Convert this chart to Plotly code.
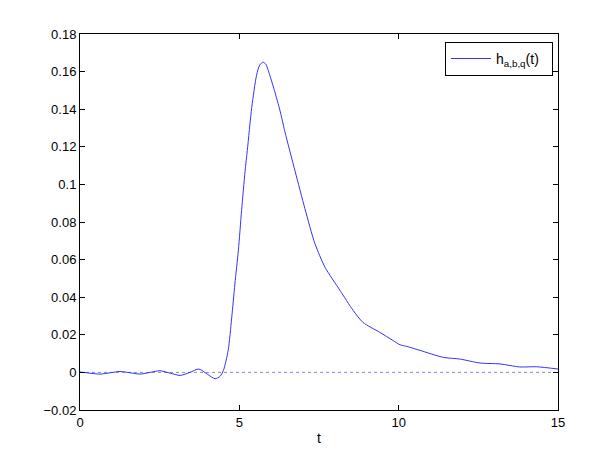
import plotly.graph_objects as go

# values
t = [0, 0.3, 0.63, 0.95, 1.26, 1.57, 1.88, 2.2, 2.51, 2.83, 3.14, 3.45, 3.73, 4.0,
     4.24, 4.4, 4.5, 4.65, 4.76, 4.86, 4.97, 5.07, 5.18, 5.25, 5.39, 5.54, 5.64, 5.74,
     5.83, 5.91, 6.1, 6.28, 6.43, 6.75, 7.06, 7.37, 7.69, 8.16, 8.57, 8.88, 9.41, 9.82,
     10.04, 10.26, 10.67, 11.4, 11.92, 12.55, 13.18, 13.8, 14.33, 15.0]
h = [0.0002, -0.0004, -0.0009, -0.0002, 0.0005, -0.0002, -0.0009, 0.0, 0.0009, -0.0004,
     -0.0016, 0.0, 0.0018, -0.001, -0.0034, -0.002, 0.001, 0.0117, 0.029, 0.047,
     0.065, 0.086, 0.107, 0.118, 0.141, 0.158, 0.1635, 0.165, 0.164, 0.1605, 0.150, 0.139, 0.128,
     0.107, 0.087, 0.0686, 0.0559, 0.0436, 0.033, 0.0266, 0.0213, 0.017, 0.0147,
     0.0138, 0.0117, 0.008, 0.0071, 0.005, 0.0045, 0.0029, 0.003, 0.0018]
zero_t = [0, 15]
zero_h = [0, 0]
ytickvals = [-0.02, 0, 0.02, 0.04, 0.06, 0.08, 0.1, 0.12, 0.14, 0.16, 0.18]
yticktext = ['\u22120.02', '0', '0.02', '0.04', '0.06', '0.08', '0.1', '0.12', '0.14', '0.16', '0.18']
xtickvals = [0, 5, 10, 15]

fig = go.Figure()
fig.add_trace(go.Scatter(x=zero_t, y=zero_h, mode='lines', showlegend=False,
                         line=dict(color='#7f8fd8', width=1, dash='dot')))
fig.add_trace(go.Scatter(x=t, y=h, mode='lines', name='h<sub>a,b,q</sub>(t)  ',
                         line=dict(color='#3333ff', width=1, shape='spline', smoothing=0.7)))

axis_style = dict(showline=True, linecolor='black', linewidth=1, mirror='ticks',
                  ticks='inside', ticklen=5, tickcolor='black', showgrid=False,
                  zeroline=False, tickfont=dict(size=13, color='black'))
fig.update_xaxes(range=[0, 15], tickvals=xtickvals, title=dict(text='t', standoff=4,
                 font=dict(size=14, color='black')), **axis_style)
fig.update_yaxes(range=[-0.02, 0.18], tickvals=ytickvals, ticktext=yticktext, **axis_style)

# the page body adds an 8px offset, so the margins are trimmed to match
fig.update_layout(
    width=600, height=447,
    margin=dict(l=72, r=50, t=26, b=45),
    paper_bgcolor='white', plot_bgcolor='white',
    font=dict(family='Liberation Sans, Arial, sans-serif', size=13, color='black'),
    legend=dict(x=0.9895, y=0.979, xanchor='right', yanchor='top',
                bordercolor='black', borderwidth=1, bgcolor='white',
                font=dict(size=14), itemwidth=40),
)
fig.write_html("out.html")
